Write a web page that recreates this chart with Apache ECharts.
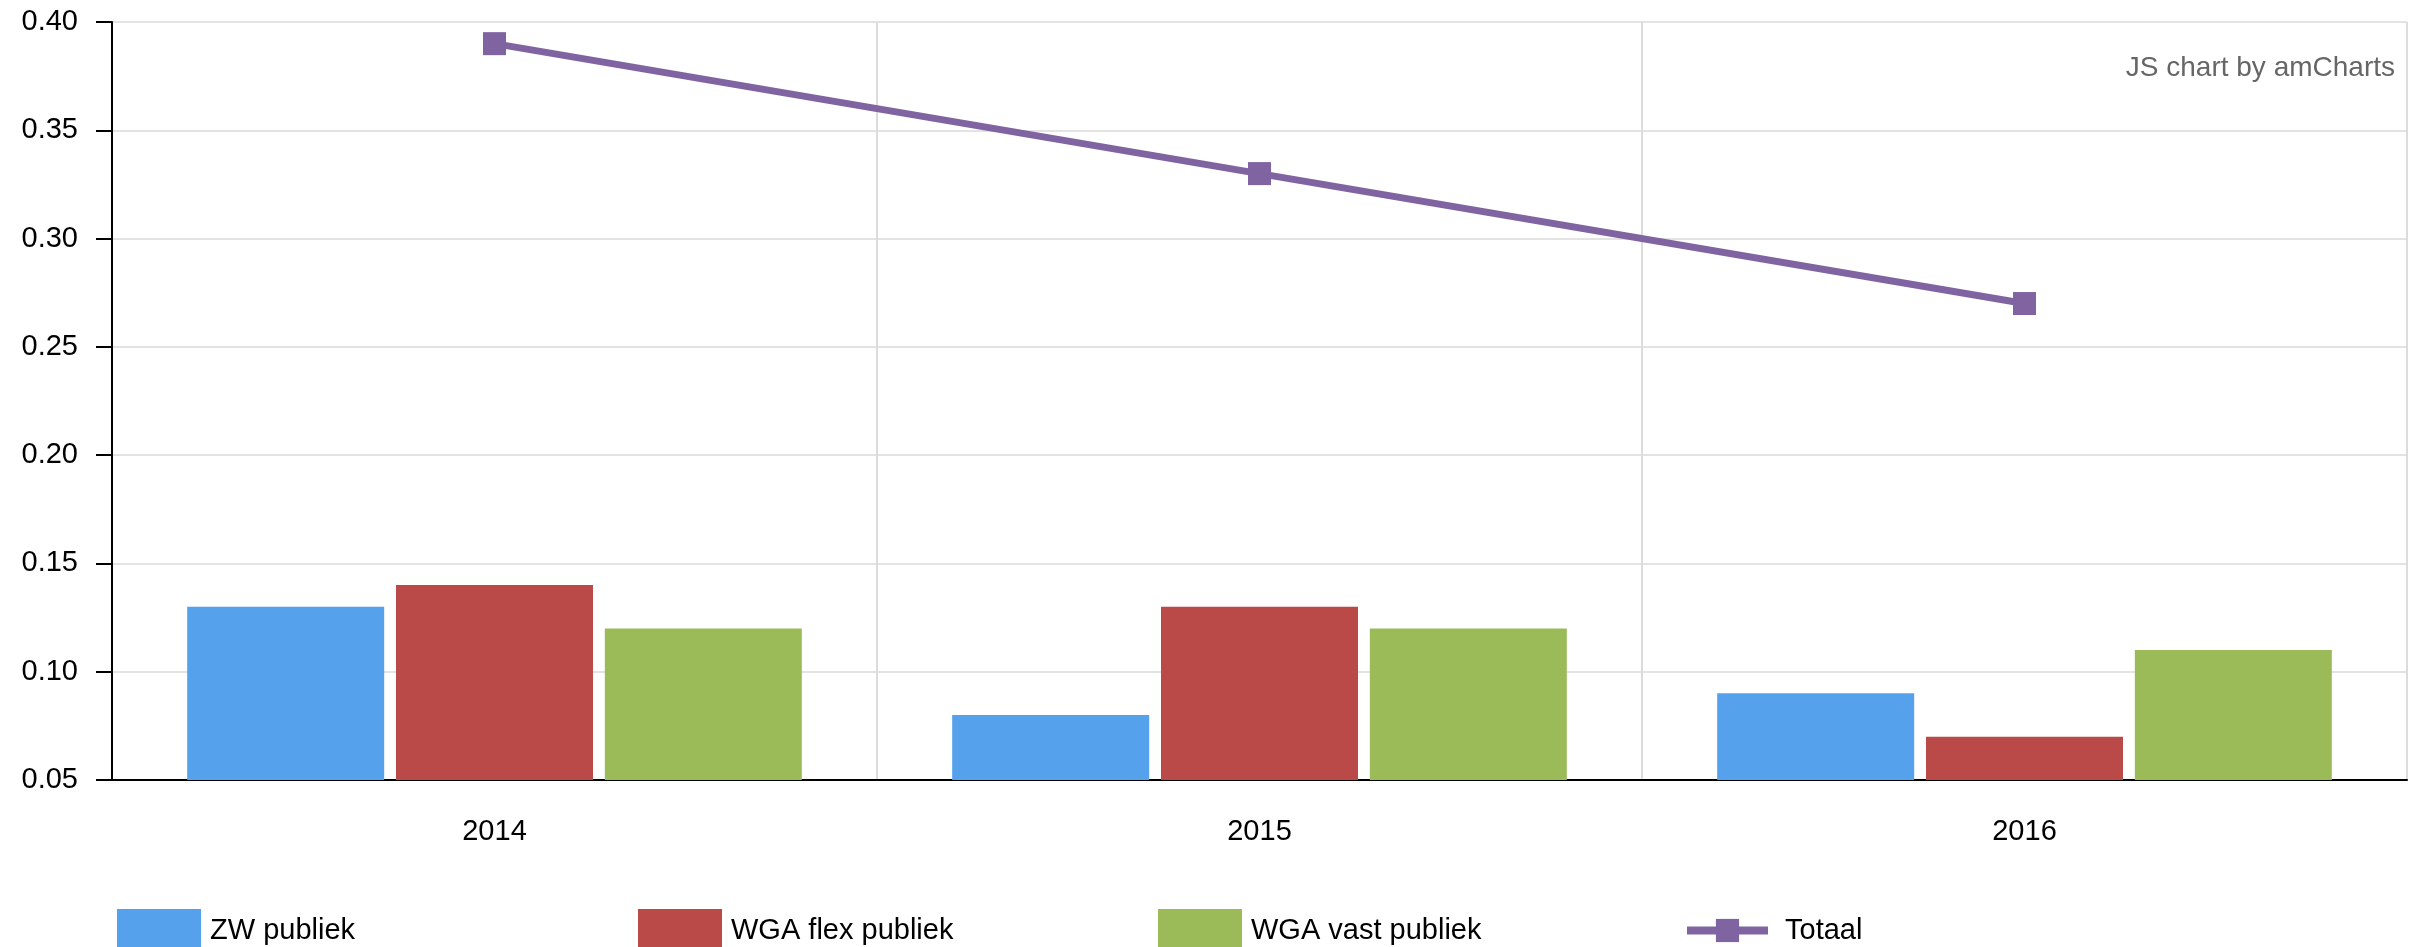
<!DOCTYPE html>
<html>
<head>
<meta charset="utf-8">
<script src="https://cdn.jsdelivr.net/npm/echarts@6/dist/echarts.min.js"></script>
<style>
  html, body { margin: 0; padding: 0; background: #fff; }
  #chart { width: 2421px; height: 947px; }
</style>
</head>
<body>
<div id="chart"></div>
<script>
// data
var years = ['2014', '2015', '2016'];
var zwPubliek = [0.13, 0.08, 0.09];
var wgaFlexPubliek = [0.14, 0.13, 0.07];
var wgaVastPubliek = [0.12, 0.12, 0.11];
var totaal = [0.39, 0.33, 0.27];
var seriesNames = ['ZW publiek', 'WGA flex publiek', 'WGA vast publiek', 'Totaal'];
var colors = ['#55a1ec', '#b94a48', '#9bbb59', '#8064a2'];

var font = '"Liberation Sans", Arial, sans-serif';

var chart = echarts.init(document.getElementById('chart'));

function barLegend(name, left) {
  return {
    data: [name],
    left: left,
    top: 904,
    itemWidth: 84,
    itemHeight: 44,
    icon: 'rect',
    selectedMode: false,
    textStyle: { fontFamily: font, fontSize: 29, color: '#000', padding: [0, 0, 0, 4] }
  };
}

var option = {
  animation: false,
  color: colors,
  grid: { left: 112, right: 14, top: 22, bottom: 167 },
  graphic: [{
    type: 'text',
    right: 26,
    top: 54,
    style: { text: 'JS chart by amCharts', fontFamily: font, fontSize: 28, fill: '#666' }
  }],
  legend: [
    barLegend(seriesNames[0], 112),
    barLegend(seriesNames[1], 633),
    barLegend(seriesNames[2], 1153),
    {
      data: [seriesNames[3]],
      left: 1678,
      top: 911,
      itemWidth: 81,
      itemHeight: 29,
      selectedMode: false,
      lineStyle: { width: 8 },
      textStyle: { fontFamily: font, fontSize: 29, color: '#000', padding: [0, 0, 0, 12] }
    }
  ],
  xAxis: {
    type: 'category',
    data: years,
    axisLine: { lineStyle: { color: '#000', width: 2 } },
    axisTick: { alignWithLabel: true, length: 13, lineStyle: { color: '#000', width: 2 } },
    axisLabel: { fontFamily: font, fontSize: 29, color: '#000', margin: 37 },
    splitLine: { show: true, lineStyle: { color: '#dcdcdc', width: 2 } }
  },
  yAxis: {
    type: 'value',
    min: 0.05,
    max: 0.40,
    interval: 0.05,
    axisLine: { show: true, lineStyle: { color: '#000', width: 2 } },
    axisTick: { show: true, length: 16, lineStyle: { color: '#000', width: 2 } },
    axisLabel: {
      fontFamily: font, fontSize: 29, color: '#000', margin: 34,
      formatter: function (v) { return v.toFixed(2); }
    },
    splitLine: { lineStyle: { color: '#e3e3e3', width: 2 } }
  },
  series: [
    { name: seriesNames[0], type: 'bar', data: zwPubliek, barWidth: 197, barGap: '6%' },
    { name: seriesNames[1], type: 'bar', data: wgaFlexPubliek, barWidth: 197, barGap: '6%' },
    { name: seriesNames[2], type: 'bar', data: wgaVastPubliek, barWidth: 197, barGap: '6%' },
    {
      name: seriesNames[3], type: 'line', data: totaal,
      symbol: 'rect', symbolSize: 23,
      lineStyle: { width: 7, color: colors[3] },
      itemStyle: { color: colors[3] },
      z: 5
    }
  ]
};

chart.setOption(option);
</script>
</body>
</html>
